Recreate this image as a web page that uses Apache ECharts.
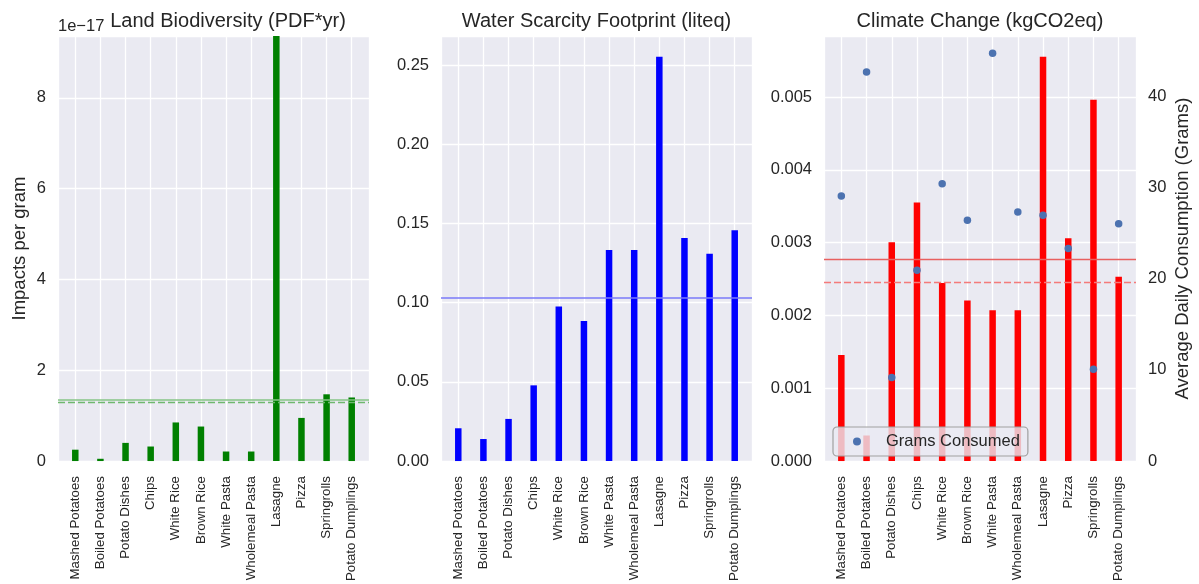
<!DOCTYPE html>
<html>
<head>
<meta charset="utf-8">
<script src="https://cdn.jsdelivr.net/npm/echarts@6/dist/echarts.min.js"></script>
<style>
html,body{margin:0;padding:0;background:#fff;}
#chart{width:1199px;height:584px;}
</style>
</head>
<body>
<div id="chart"></div>
<script>
// ---------------- data ----------------
const categories = ['Mashed Potatoes','Boiled Potatoes','Potato Dishes','Chips','White Rice','Brown Rice','White Pasta','Wholemeal Pasta','Lasagne','Pizza','Springrolls','Potato Dumplings'];
// Land Biodiversity, in units of 1e-17 PDF*yr per gram
const landValues = [0.25, 0.05, 0.40, 0.32, 0.85, 0.76, 0.21, 0.21, 9.40, 0.95, 1.47, 1.40];
const landMeanLine = 1.35;
const landDashedLine = 1.29;
// Water Scarcity Footprint, liteq per gram
const waterValues = [0.0207, 0.0139, 0.0266, 0.0478, 0.0976, 0.0884, 0.1332, 0.1332, 0.2553, 0.1409, 0.1309, 0.1457];
const waterMeanLine = 0.1028;
// Climate Change, kgCO2eq per gram
const climateValues = [0.001457, 0.000351, 0.003007, 0.003551, 0.002445, 0.002205, 0.002073, 0.002073, 0.005554, 0.003062, 0.004965, 0.002532];
const climateMeanLine = 0.002771;
const climateDashedLine = 0.002458;
// Average daily consumption (grams)
const gramsConsumed = [29.05, 42.65, 9.16, 20.91, 30.39, 26.41, 44.71, 27.31, 26.95, 23.30, 10.07, 26.01];

const landTicks = [0, 2, 4, 6, 8];
const waterTicks = [0, 0.05, 0.10, 0.15, 0.20, 0.25];
const climateTicks = [0, 0.001, 0.002, 0.003, 0.004, 0.005];
const gramsTicks = [0, 10, 20, 30, 40];

// ---------------- style ----------------
const FONT = 'Liberation Sans, Arial, sans-serif';
const TXT = '#262626';
const BG = '#EAEAF2';
const TICK_FS = 16.5;

const plots = [
  {left: 58, width: 311},
  {left: 441, width: 311},
  {left: 824, width: 312}
];
const TOP = 36, HEIGHT = 429;

function isTick(v, ticks) {
  return ticks.some(t => Math.abs(t - v) < 1e-9 * Math.max(1, Math.abs(t)) || Math.abs(t - v) < 1e-12);
}

function xAxisFor(gi) {
  return {
    type: 'value', gridIndex: gi,
    min: -0.6875, max: categories.length - 1 + 0.6875,
    minInterval: 1, maxInterval: 1,
    axisLine: {show: false}, axisTick: {show: false},
    splitLine: {show: true, lineStyle: {color: '#ffffff', width: 1.3}},
    axisLabel: {
      rotate: 90, margin: 15, fontSize: 13.3, color: TXT, fontFamily: FONT,
      showMinLabel: false, showMaxLabel: false,
      formatter: function (v) {
        const r = Math.round(v);
        if (Math.abs(r - v) > 1e-6 || r < 0 || r >= categories.length) return '';
        return categories[r];
      }
    }
  };
}

function yAxisFor(gi, max, interval, ticks, decimals, extra) {
  return Object.assign({
    type: 'value', gridIndex: gi, min: 0, max: max, interval: interval,
    axisLine: {show: false}, axisTick: {show: false},
    splitLine: {show: true, lineStyle: {color: '#ffffff', width: 1.3}},
    axisLabel: {
      margin: 12, fontSize: TICK_FS, color: TXT, fontFamily: FONT,
      showMaxLabel: false,
      formatter: function (v) { return isTick(v, ticks) ? v.toFixed(decimals) : ''; }
    }
  }, extra || {});
}

function toPairs(vals) { return vals.map((v, i) => [i, v]); }

const option = {
  animation: false,
  backgroundColor: '#ffffff',
  textStyle: {fontFamily: FONT, color: TXT},
  grid: plots.map(p => ({
    left: p.left, top: TOP, width: p.width, height: HEIGHT,
    show: true, backgroundColor: BG, borderWidth: 0, containLabel: false
  })),
  xAxis: [xAxisFor(0), xAxisFor(1), xAxisFor(2)],
  yAxis: [
    yAxisFor(0, 9.36, 2, landTicks, 0, {
      name: 'Impacts per gram', nameLocation: 'middle', nameGap: 29, nameRotate: 90,
      nameTextStyle: {fontSize: 18.5, color: TXT, fontFamily: FONT}
    }),
    yAxisFor(1, 0.2684, 0.05, waterTicks, 2),
    yAxisFor(2, 0.00584, 0.001, climateTicks, 3),
    yAxisFor(2, 46.6, 10, gramsTicks, 0, {
      position: 'right',
      splitLine: {show: false},
      name: 'Average Daily Consumption (Grams)', nameLocation: 'middle', nameGap: 37, nameRotate: 90,
      nameTextStyle: {fontSize: 18.5, color: TXT, fontFamily: FONT}
    })
  ],
  legend: {
    data: [{name: 'Grams Consumed', icon: 'circle'}],
    left: 833, top: 427, orient: 'horizontal',
    padding: [6, 8, 6, 20],
    itemWidth: 8, itemHeight: 8,
    textStyle: {fontSize: TICK_FS, color: TXT, fontFamily: FONT, padding: [0, 0, 0, 20]},
    backgroundColor: 'rgba(234,234,242,0.8)',
    borderColor: '#a0a0a0', borderWidth: 1.2, borderRadius: 4,
    selectedMode: false, z: 20
  },
  graphic: [
    {type: 'text', x: 228, y: 21, z: 10, style: {text: 'Land Biodiversity (PDF*yr)', fontSize: 20, fill: TXT, fontFamily: FONT, align: 'center', verticalAlign: 'middle'}},
    {type: 'text', x: 596.5, y: 21, z: 10, style: {text: 'Water Scarcity Footprint (liteq)', fontSize: 20, fill: TXT, fontFamily: FONT, align: 'center', verticalAlign: 'middle'}},
    {type: 'text', x: 980, y: 21, z: 10, style: {text: 'Climate Change (kgCO2eq)', fontSize: 20, fill: TXT, fontFamily: FONT, align: 'center', verticalAlign: 'middle'}},
    {type: 'text', x: 58, y: 26.5, z: 10, style: {text: '1e\u221217', fontSize: TICK_FS, fill: TXT, fontFamily: FONT, align: 'left', verticalAlign: 'middle'}}
  ],
  series: [
    {
      type: 'bar', name: 'Land', xAxisIndex: 0, yAxisIndex: 0,
      data: toPairs(landValues), barWidth: 6.5,
      itemStyle: {color: '#008000'},
      markLine: {
        silent: true, symbol: 'none', label: {show: false}, precision: 8,
        data: [
          {yAxis: landMeanLine, lineStyle: {color: '#86c586', opacity: 1, width: 1.6, type: 'solid'}},
          {yAxis: landDashedLine, lineStyle: {color: '#6fb86f', opacity: 1, width: 1.4, type: [7, 3]}}
        ]
      }
    },
    {
      type: 'bar', name: 'Water', xAxisIndex: 1, yAxisIndex: 1,
      data: toPairs(waterValues), barWidth: 6.5,
      itemStyle: {color: '#0000ff'},
      markLine: {
        silent: true, symbol: 'none', label: {show: false}, precision: 8,
        data: [
          {yAxis: waterMeanLine, lineStyle: {color: '#7a7af8', opacity: 1, width: 1.5, type: 'solid'}}
        ]
      }
    },
    {
      type: 'bar', name: 'Climate', xAxisIndex: 2, yAxisIndex: 2,
      data: toPairs(climateValues), barWidth: 6.5,
      itemStyle: {color: '#ff0000'},
      markLine: {
        silent: true, symbol: 'none', label: {show: false}, precision: 8,
        lineStyle: {color: '#e8605f', opacity: 1},
        data: [
          {yAxis: climateDashedLine, lineStyle: {color: '#f47a7a', opacity: 1, width: 1.4, type: [7, 3]}},
          {yAxis: climateMeanLine, lineStyle: {color: '#e8605f', opacity: 1, width: 1.4, type: 'solid'}}
        ]
      }
    },
    {
      type: 'scatter', name: 'Grams Consumed', xAxisIndex: 2, yAxisIndex: 3,
      data: toPairs(gramsConsumed), symbol: 'circle', symbolSize: 7.5,
      itemStyle: {color: '#4c72b0', opacity: 1}, z: 5
    }
  ]
};

const chart = echarts.init(document.getElementById('chart'), null, {renderer: 'canvas'});
chart.setOption(option);
</script>
</body>
</html>
